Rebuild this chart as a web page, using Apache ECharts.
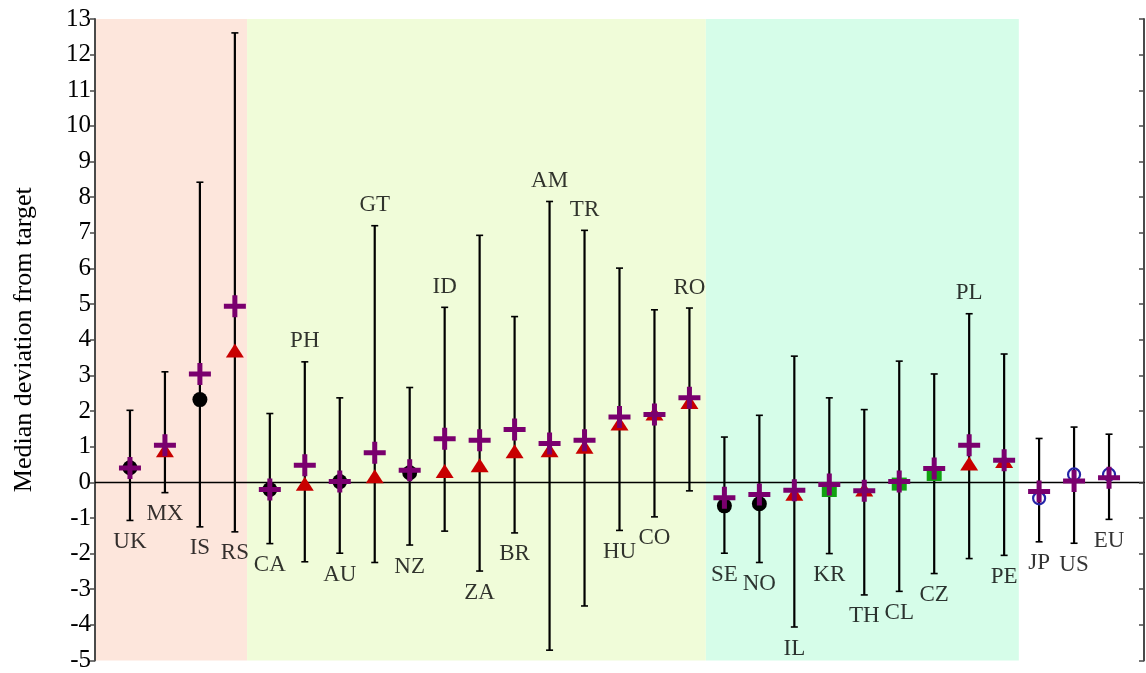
<!DOCTYPE html>
<html>
<head>
<meta charset="utf-8">
<script src="https://cdn.jsdelivr.net/npm/echarts@6/dist/echarts.min.js"></script>
<style>
  html, body { margin: 0; padding: 0; background: #fff; }
  #chart { width: 1146px; height: 673px; }
</style>
</head>
<body>
<div id="chart"></div>
<script>
// country codes, left to right
const countries = ['UK', 'MX', 'IS', 'RS', 'CA', 'PH', 'AU', 'GT', 'NZ', 'ID', 'ZA', 'BR', 'AM', 'TR', 'HU',
  'CO', 'RO', 'SE', 'NO', 'IL', 'KR', 'TH', 'CL', 'CZ', 'PL', 'PE', 'JP', 'US', 'EU'];
// error bar ends
const upper = [2.02, 3.1, 8.42, 12.61, 1.93, 3.38, 2.37, 7.2, 2.66, 4.91, 6.93, 4.65, 7.88, 7.07, 6.01,
  4.84, 4.89, 1.27, 1.88, 3.54, 2.37, 2.04, 3.4, 3.04, 4.73, 3.6, 1.23, 1.55, 1.35];
const lower = [-1.07, -0.29, -1.25, -1.39, -1.72, -2.23, -1.99, -2.25, -1.76, -1.37, -2.49, -1.42, -4.71, -3.47, -1.35,
  -0.97, -0.24, -1.99, -2.25, -4.06, -2.0, -3.16, -3.06, -2.56, -2.14, -2.05, -1.67, -1.71, -1.04];
// marker (triangle / dot / square / ring) value and kind
const markerVal = [0.41, 0.9, 2.32, 3.7, -0.2, -0.04, 0.02, 0.17, 0.27, 0.32, 0.48, 0.87, 0.9, 1.0, 1.65,
  1.93, 2.25, -0.66, -0.6, -0.32, -0.23, -0.2, -0.05, 0.22, 0.53, 0.6, -0.45, 0.22, 0.22];
const markerKind = ['dot', 'tri', 'dot', 'tri', 'dot', 'tri', 'dot', 'tri', 'dot', 'tri', 'tri', 'tri', 'tri', 'tri', 'tri',
  'tri', 'tri', 'dot', 'dot', 'tri', 'sq', 'tri', 'sq', 'sq', 'tri', 'tri', 'ring', 'ring', 'ring'];
// purple cross value
const plusVal = [0.4, 1.04, 3.04, 4.94, -0.2, 0.48, 0.02, 0.83, 0.34, 1.22, 1.18, 1.48, 1.09, 1.18, 1.83,
  1.9, 2.37, -0.43, -0.34, -0.22, -0.06, -0.24, 0.02, 0.39, 1.04, 0.62, -0.26, 0.04, 0.13];
// labels drawn above the bar instead of below
const labelAbove = ['PH', 'GT', 'ID', 'AM', 'TR', 'RO', 'PL'];
// shaded groups (x in slot units)
const bands = [[0, 4.35, '#fde6dc'], [4.35, 17.47, '#f0fcd9'], [17.47, 26.42, '#d6fde9']];

const serif = '"Liberation Serif", "Times New Roman", serif';
const xs = countries.map((c, i) => i + 1);

function pick(kind) {
  return xs.filter((x, i) => markerKind[i] === kind).map(x => [x, markerVal[x - 1]]);
}

const plusPath = 'path://M0,8.5H8.5V0H13.5V8.5H22V13.5H13.5V22H8.5V13.5H0Z';

let chart = echarts.init(document.getElementById('chart'));
chart.setOption({
  animation: false,
  textStyle: { fontFamily: serif },
  grid: { left: 95, right: 2, top: 19, bottom: 12 },
  xAxis: {
    type: 'value', min: 0, max: 30, z: 2,
    axisLine: { show: true, onZero: true, lineStyle: { color: '#000', width: 1.4 } },
    axisTick: { show: false }, axisLabel: { show: false }, splitLine: { show: false }
  },
  yAxis: [{
    type: 'value', min: -5, max: 13, interval: 1, z: 2,
    name: 'Median deviation from target', nameLocation: 'middle', nameGap: 58,
    nameTextStyle: { fontFamily: serif, fontSize: 26, color: '#000' },
    axisLine: { show: true, lineStyle: { color: '#4a4a4a', width: 2 } },
    axisTick: { show: true, length: 5, lineStyle: { color: '#4a4a4a', width: 1.5 } },
    axisLabel: { fontFamily: serif, fontSize: 25, color: '#000', margin: 4 },
    splitLine: { show: false }
  }, {
    type: 'value', min: -5, max: 13, interval: 1, position: 'right', z: 2,
    axisLine: { show: true, lineStyle: { color: '#4a4a4a', width: 2 } },
    axisTick: { show: true, inside: true, length: 5, lineStyle: { color: '#4a4a4a', width: 1.5 } },
    axisLabel: { show: false }, splitLine: { show: false }
  }],
  series: [
    {
      type: 'line', data: [], silent: true,
      markArea: {
        silent: true,
        data: bands.map(b => [{ xAxis: b[0], itemStyle: { color: b[2] } }, { xAxis: b[1] }])
      }
    },
    {
      type: 'custom', z: 3,
      data: xs.map((x, i) => [x, lower[i], upper[i]]),
      renderItem: function (params, api) {
        const top = api.coord([api.value(0), api.value(2)]);
        const bot = api.coord([api.value(0), api.value(1)]);
        const cap = 3.5;
        return {
          type: 'group',
          children: [
            { type: 'line', shape: { x1: top[0], y1: top[1], x2: bot[0], y2: bot[1] }, style: { stroke: '#000', lineWidth: 2.2 } },
            { type: 'line', shape: { x1: top[0] - cap, y1: top[1], x2: top[0] + cap, y2: top[1] }, style: { stroke: '#000', lineWidth: 1.6 } },
            { type: 'line', shape: { x1: bot[0] - cap, y1: bot[1], x2: bot[0] + cap, y2: bot[1] }, style: { stroke: '#000', lineWidth: 1.6 } }
          ]
        };
      }
    },
    { type: 'scatter', z: 4, symbol: 'triangle', symbolSize: [18, 14], itemStyle: { color: '#c80000', opacity: 1 }, data: pick('tri') },
    { type: 'scatter', z: 4, symbol: 'circle', symbolSize: 15, itemStyle: { color: '#000', opacity: 1 }, data: pick('dot') },
    { type: 'scatter', z: 4, symbol: 'rect', symbolSize: [15, 13], itemStyle: { color: '#11a011', opacity: 1 }, data: pick('sq') },
    {
      type: 'scatter', z: 4, symbol: 'circle', symbolSize: 12,
      itemStyle: { color: 'rgba(0,0,0,0)', borderColor: '#2424a8', borderWidth: 2.2, opacity: 1 }, data: pick('ring')
    },
    { type: 'scatter', z: 5, symbol: plusPath, symbolSize: 22, itemStyle: { color: '#7a006e', opacity: 1 }, data: xs.map((x, i) => [x, plusVal[i]]) },
    {
      type: 'scatter', z: 6, symbolSize: 0, silent: true,
      data: xs.map((x, i) => {
        const up = labelAbove.includes(countries[i]);
        return {
          value: [x, up ? upper[i] : lower[i]],
          label: {
            show: true, formatter: countries[i], position: up ? 'top' : 'bottom', distance: up ? 9 : 10,
            fontFamily: serif, fontSize: 23, color: '#000', lineHeight: 23
          }
        };
      })
    }
  ]
});

window.addEventListener('resize', () => {
  if (chart) {
    chart.resize();
  }
});
</script>
</body>
</html>
